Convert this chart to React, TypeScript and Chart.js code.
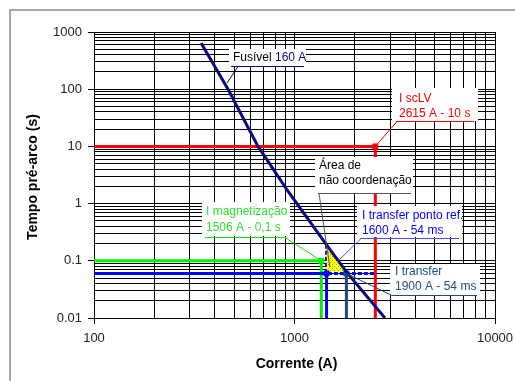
import React, { useEffect, useRef } from "react";
import { Chart, registerables } from "chart.js";

Chart.register(...registerables);

// ---------------- data ----------------
const xTickLabels = ["100", "1000", "10000"];
const yTickLabels = ["0.01", "0.1", "1", "10", "100", "1000"];
const minorMultipliers = [1, 2, 3, 4, 5, 6, 7, 8, 9];

const xTitle = "Corrente (A)";
const yTitle = "Tempo pré-arco (s)";

// fuse pre-arc curve (Fusível 160 A)
const fuseCurrent = [342, 466, 658, 918, 1469, 1828, 2825];
const fuseTime = [643, 100, 10, 1.74, 0.176, 0.062, 0.01];

// I scLV
const iscCurrent = [100, 2530, 2530];
const iscTime = [10, 10, 0.01];

// I magnetização
const magCurrent = [100, 1360, 1360];
const magTime = [0.1, 0.1, 0.01];

// I transfer ponto ref.
const refCurrent = [100, 1445, 1445];
const refTime = [0.06, 0.06, 0.01];
const refDashCurrent = [1445, 1445, 2530];
const refDashTime = [0.19, 0.06, 0.06];

// I transfer
const transferCurrent = [1815, 1815];
const transferTime = [0.06, 0.01];

// área de não coordenação
const areaCurrent = [1445, 1811];
const areaTime = [0.19, 0.065];
const areaBase = 0.065;

// markers
const markerCurrent = [2530, 1360, 1445, 1815];
const markerTime = [10, 0.1, 0.06, 0.06];

// annotation texts
const fuseLabel = ["Fusível", "160 A"];
const iscLabel = ["I scLV", "2615 A - 10 s"];
const areaLabel = ["Área de", "não coordenação"];
const magLabel = ["I magnetização", "1506 A - 0,1 s"];
const refLabel = ["I transfer ponto ref.", "1600 A - 54 ms"];
const transferLabel = ["I transfer", "1900 A - 54 ms"];

// ---------------- colours ----------------
const NAVY = "#0a0a80";
const RED = "#ff0000";
const GREEN = "#00f000";
const GREEN_TEXT = "#2ee02e";
const BLUE = "#0000ff";
const DARKBLUE = "#1c4d7e";
const FONT = "'Liberation Sans', Arial, sans-serif";

const pts = (xs: number[], ys: number[]) => xs.map((x, i) => ({ x, y: ys[i] }));

const buildTicks = (labels: string[]) => {
  const out: number[] = [];
  labels.forEach((l, i) => {
    const base = Number(l);
    if (i < labels.length - 1) minorMultipliers.forEach((m) => out.push(base * m));
    else out.push(base);
  });
  return out;
};

const majorLabel = (labels: string[], v: number) => {
  const f = labels.find((l) => Math.abs(Math.log10(Number(l)) - Math.log10(v)) < 1e-6);
  return f === undefined ? "" : f;
};

function makePattern(): CanvasPattern | string {
  const c = document.createElement("canvas");
  c.width = 4;
  c.height = 4;
  const g = c.getContext("2d");
  if (!g) return "#ffff00";
  g.fillStyle = "#ffff00";
  g.fillRect(0, 0, 4, 4);
  g.fillStyle = "#9a9a40";
  g.fillRect(0, 0, 1, 1);
  g.fillRect(2, 2, 1, 1);
  const p = g.createPattern(c, "repeat");
  return p || "#ffff00";
}

const annotationPlugin = {
  id: "annos",
  beforeDraw(chart: any) {
    const ctx = chart.ctx;
    ctx.save();
    ctx.fillStyle = "#ffffff";
    ctx.fillRect(0, 0, chart.width, chart.height);
    ctx.strokeStyle = "#8a8a8a";
    ctx.lineWidth = 1.5;
    ctx.beginPath();
    ctx.moveTo(10, chart.height);
    ctx.lineTo(10, 10);
    ctx.lineTo(chart.width, 10);
    ctx.stroke();
    ctx.restore();
  },
  afterDatasetsDraw(chart: any) {
    const ctx = chart.ctx;
    const xs = chart.scales.x;
    const ys = chart.scales.y;
    const P = (I: number, t: number) => [xs.getPixelForValue(I), ys.getPixelForValue(t)];
    ctx.save();
    ctx.font = `12px ${FONT}`;
    ctx.textBaseline = "middle";
    ctx.textAlign = "left";
    const box = (x: number, y: number, w: number, h: number) => {
      ctx.fillStyle = "#ffffff";
      ctx.fillRect(x, y, w, h);
    };
    const seg = (x1: number, y1: number, x2: number, y2: number, color: string, w = 1) => {
      ctx.strokeStyle = color;
      ctx.lineWidth = w;
      ctx.beginPath();
      ctx.moveTo(x1, y1);
      ctx.lineTo(x2, y2);
      ctx.stroke();
    };
    const text = (s: string, x: number, y: number, color: string) => {
      ctx.fillStyle = color;
      ctx.fillText(s, x, y);
    };

    // Fusível 160 A
    box(229, 49, 77, 17);
    text(fuseLabel[0], 233, 58, "#000000");
    const fw = ctx.measureText(fuseLabel[0] + " ").width;
    text(fuseLabel[1], 233 + fw, 58, NAVY);
    seg(231, 66.5, 304, 66.5, NAVY, 1);
    seg(238, 66.5, 227, 83, NAVY, 1);

    // I scLV
    box(392, 88, 86, 33);
    text(iscLabel[0], 399, 99, RED);
    text(iscLabel[1], 399, 114, RED);
    const [rx, ry] = P(markerCurrent[0], markerTime[0]);
    seg(396, 121.5, 474, 121.5, RED, 1);
    seg(397, 121.5, rx, ry, RED, 1);

    // Área de não coordenação
    box(315, 157, 98, 36);
    text(areaLabel[0], 319, 166, "#000000");
    text(areaLabel[1], 319, 181, "#000000");
    const [ax, ay] = P(1500, 0.1);
    seg(318, 193.5, 411, 193.5, "#555555", 1);
    seg(319, 193.5, ax, ay + 6, "#555555", 1);

    // I magnetização
    box(202, 202, 88, 34);
    text(magLabel[0], 206, 212, GREEN_TEXT);
    text(magLabel[1], 206, 228, GREEN_TEXT);
    const [gx, gy] = P(markerCurrent[1], markerTime[1]);
    seg(205, 237.5, 286, 237.5, GREEN, 1);
    seg(285, 237.5, gx, gy, GREEN, 1);

    // I transfer ponto ref.
    box(357, 206, 105, 31);
    text(refLabel[0], 362, 216, BLUE);
    text(refLabel[1], 362, 231, BLUE);
    seg(360, 238.5, 459, 238.5, "#4a4aff", 1);
    seg(361, 238.5, 337, 262, "#4a4aff", 1);

    // I transfer
    box(390, 264, 90, 31);
    text(transferLabel[0], 395, 272, DARKBLUE);
    text(transferLabel[1], 395, 287, DARKBLUE);
    const [tx, ty] = P(markerCurrent[3], markerTime[3]);
    seg(392, 295.5, 477, 295.5, DARKBLUE, 1);
    seg(392, 295.5, tx, ty, DARKBLUE, 1);

    ctx.restore();
  },
  afterDraw(chart: any) {
    const ctx = chart.ctx;
    const a = chart.chartArea;
    ctx.save();
    ctx.font = `bold 14px ${FONT}`;
    ctx.fillStyle = "#000000";
    ctx.textAlign = "center";
    ctx.textBaseline = "middle";
    ctx.fillText(xTitle, (a.left + a.right) / 2 + 2, 364);
    ctx.translate(33, (a.top + a.bottom) / 2 + 2);
    ctx.rotate(-Math.PI / 2);
    ctx.fillText(yTitle, 0, 0);
    ctx.restore();
  },
};

export default function App() {
  const ref = useRef<HTMLCanvasElement | null>(null);

  useEffect(() => {
    if (!ref.current) return;
    const xTicks = buildTicks(xTickLabels);
    const yTicks = buildTicks(yTickLabels);
    const pattern = makePattern();

    const lineDs = (label: string, data: any[], color: string, extra: any = {}) => ({
      label,
      data,
      showLine: true,
      borderColor: color,
      backgroundColor: color,
      borderWidth: 3,
      pointRadius: 0,
      fill: false,
      ...extra,
    });

    const chart = new Chart(ref.current, {
      type: "scatter",
      data: {
        datasets: [
          lineDs("Fusível 160 A", pts(fuseCurrent, fuseTime), NAVY, { borderWidth: 3 }),
          {
            label: "markers",
            data: pts(markerCurrent, markerTime),
            showLine: false,
            pointStyle: "rect",
            pointRadius: 3.5,
            pointBackgroundColor: [RED, GREEN, BLUE, DARKBLUE],
            pointBorderColor: [RED, GREEN, BLUE, DARKBLUE],
            pointBorderWidth: 1,
          } as any,
          lineDs("área", pts(areaCurrent, areaTime), "rgba(0,0,0,0)", {
            borderWidth: 0,
            fill: { value: areaBase },
            backgroundColor: pattern,
          }),
          lineDs("I transfer", pts(transferCurrent, transferTime), DARKBLUE),
          lineDs("I transfer ref dash", pts(refDashCurrent, refDashTime), BLUE, { borderDash: [4, 2] }),
          lineDs("I transfer ponto ref.", pts(refCurrent, refTime), BLUE),
          lineDs("I magnetização", pts(magCurrent, magTime), GREEN),
          lineDs("I scLV", pts(iscCurrent, iscTime), RED),
        ],
      },
      options: {
        responsive: false,
        animation: false,
        events: [],
        layout: { padding: { left: 0, top: 32, right: 20, bottom: 0 } },
        plugins: {
          legend: { display: false },
          tooltip: { enabled: false },
        },
        scales: {
          x: {
            type: "logarithmic",
            min: 100,
            max: 10000,
            afterBuildTicks: (s: any) => {
              s.ticks = xTicks.map((v) => ({ value: v }));
            },
            afterFit: (s: any) => {
              s.height = 63;
              s.paddingLeft = 0;
              s.paddingRight = 0;
            },
            ticks: {
              autoSkip: false,
              maxRotation: 0,
              padding: 7,
              color: "#222222",
              font: { family: FONT, size: 13 },
              callback: (v: any) => majorLabel(xTickLabels, Number(v)),
            },
            grid: {
              color: "#000000",
              lineWidth: 1,
              tickLength: 6,
              tickColor: (c: any) => (majorLabel(xTickLabels, c.tick ? c.tick.value : 0) ? "#000000" : "rgba(0,0,0,0)"),
            },
            border: { display: true, color: "#000000", width: 1 },
          },
          y: {
            type: "logarithmic",
            min: 0.01,
            max: 1000,
            afterBuildTicks: (s: any) => {
              s.ticks = yTicks.map((v) => ({ value: v }));
            },
            afterFit: (s: any) => {
              s.width = 94;
              s.paddingTop = 0;
              s.paddingBottom = 0;
            },
            ticks: {
              autoSkip: false,
              padding: 6,
              color: "#222222",
              font: { family: FONT, size: 13 },
              callback: (v: any) => majorLabel(yTickLabels, Number(v)),
            },
            grid: {
              color: "#000000",
              lineWidth: 1,
              tickLength: 6,
              tickColor: (c: any) => (majorLabel(yTickLabels, c.tick ? c.tick.value : 0) ? "#000000" : "rgba(0,0,0,0)"),
            },
            border: { display: true, color: "#000000", width: 1 },
          },
        },
      } as any,
      plugins: [annotationPlugin],
    });
    return () => chart.destroy();
  }, []);

  return (
    <div style={{ position: "absolute", left: 0, top: 0, width: 515, height: 381 }}>
      <canvas ref={ref} width={515} height={381} style={{ display: "block" }} />
    </div>
  );
}
